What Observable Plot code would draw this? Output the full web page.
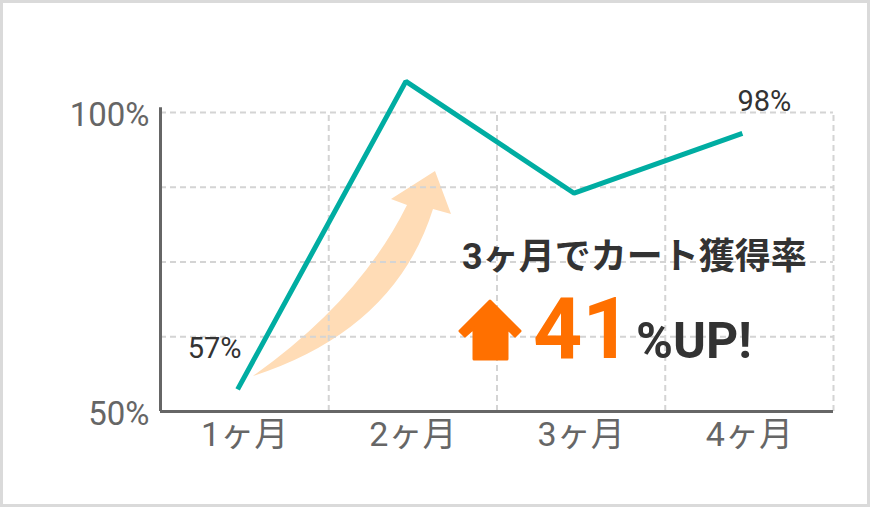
<!DOCTYPE html>
<html>
<head>
<meta charset="utf-8">
<script src="https://cdn.jsdelivr.net/npm/d3@7"></script>
<script src="https://cdn.jsdelivr.net/npm/@observablehq/plot@0.6"></script>
<style>
  html, body { margin: 0; padding: 0; background: #fff; }
  #wrap { position: relative; width: 870px; height: 507px; overflow: hidden; }
  #frame { position: absolute; left: 0; top: 0; width: 870px; height: 507px; box-sizing: border-box; border: 3px solid #dadada; pointer-events: none; }
</style>
</head>
<body>
<div id="wrap"><div id="frame"></div></div>
<script>
// ---- data ----
const months = ["1ヶ月", "2ヶ月", "3ヶ月", "4ヶ月"];
const rates = [53.7, 105.2, 86.5, 96.5];
const valueLabels = ["57%", "", "", "98%"];
const yTicks = [50, 100];
const yTickLabels = ["50%", "100%"];
const yGrid = [62.5, 75, 87.5, 100];
const xGrid = [1.5, 2.5, 3.5, 4.5];
const headline = "3ヶ月でカート獲得率";
const upValue = "41";
const upSuffix = "%UP!";

const data = months.map((m, i) => ({ i: i + 1, month: m, rate: rates[i], label: valueLabels[i] }));

const teal = "#00ada2";
const orange = "#ff7000";
const grid = { stroke: "#d4d4d4", strokeWidth: 2, strokeDasharray: "6,4" };

const plot = Plot.plot({
  width: 870,
  height: 507,
  marginLeft: 160,
  marginRight: 37,
  marginTop: 112,
  marginBottom: 96,
  x: { domain: [0.5, 4.5], axis: null },
  y: { domain: [50, 100], axis: null },
  style: { fontFamily: "Roboto, 'Noto Sans CJK JP', sans-serif", background: "transparent", overflow: "visible" },
  marks: [
    Plot.ruleY(yGrid, grid),
    Plot.ruleX(xGrid, { y1: 50, y2: 100, ...grid }),
    Plot.ruleY([50], { stroke: "#666", strokeWidth: 3 }),
    Plot.ruleX([0.5], { y1: 50, y2: 100.8, stroke: "#666", strokeWidth: 3 }),
    Plot.text(yTicks, { y: d => d, text: (d, i) => yTickLabels[i], frameAnchor: "left", textAnchor: "end", dx: -11, dy: 3, fontSize: 33, fill: "#666" }),
    Plot.text(data, { x: "i", text: "month", frameAnchor: "bottom", dy: 34, fontSize: 34, fill: "#666", style: "letter-spacing:1px" }),
    Plot.line(data, { x: "i", y: "rate", stroke: teal, strokeWidth: 5, strokeLinejoin: "miter", strokeLinecap: "butt", dx: -7 }),
    Plot.text(data.filter(d => d.i === 1), { x: "i", y: "rate", text: "label", dx: -30, dy: -41, fontSize: 29, fill: "#333" }),
    Plot.text(data.filter(d => d.i === 4), { x: "i", y: "rate", text: "label", dx: 15, dy: -32, fontSize: 29, fill: "#333" })
  ]
});

const svg = d3.select(plot);

// decorative curved arrow
svg.insert("path", ":first-child")
  .attr("d", "M435,171 L451,214 L433,209 Q395,330 253,376 Q360,300 407,205 L391,199 Z")
  .attr("fill", "#ffdcb6");

// annotation
const ann = svg.append("g").attr("text-anchor", "start");

ann.append("text")
  .attr("x", 462).attr("y", 269)
  .attr("font-size", 36).attr("font-weight", 700).attr("fill", "#333")
  .attr("font-family", "Roboto, 'Noto Sans CJK JP', sans-serif")
  .text(headline);

ann.append("path")
  .attr("d", "M490,301 L520,331 L515,336 L507,328 L507,359 L474,359 L474,328 L465,336 L460,331 Z")
  .attr("fill", orange).attr("stroke", orange).attr("stroke-width", 3).attr("stroke-linejoin", "round");

ann.append("text")
  .attr("x", 533).attr("y", 358)
  .attr("font-size", 86).attr("font-weight", 700).attr("fill", orange)
  .attr("font-family", "Roboto, sans-serif")
  .text(upValue);

ann.append("text")
  .attr("x", 636).attr("y", 358)
  .attr("font-size", 50).attr("font-weight", 700).attr("fill", "#333")
  .attr("font-family", "Roboto, sans-serif")
  .text(upSuffix);

document.getElementById("wrap").insertBefore(plot, document.getElementById("frame"));
</script>
</body>
</html>
